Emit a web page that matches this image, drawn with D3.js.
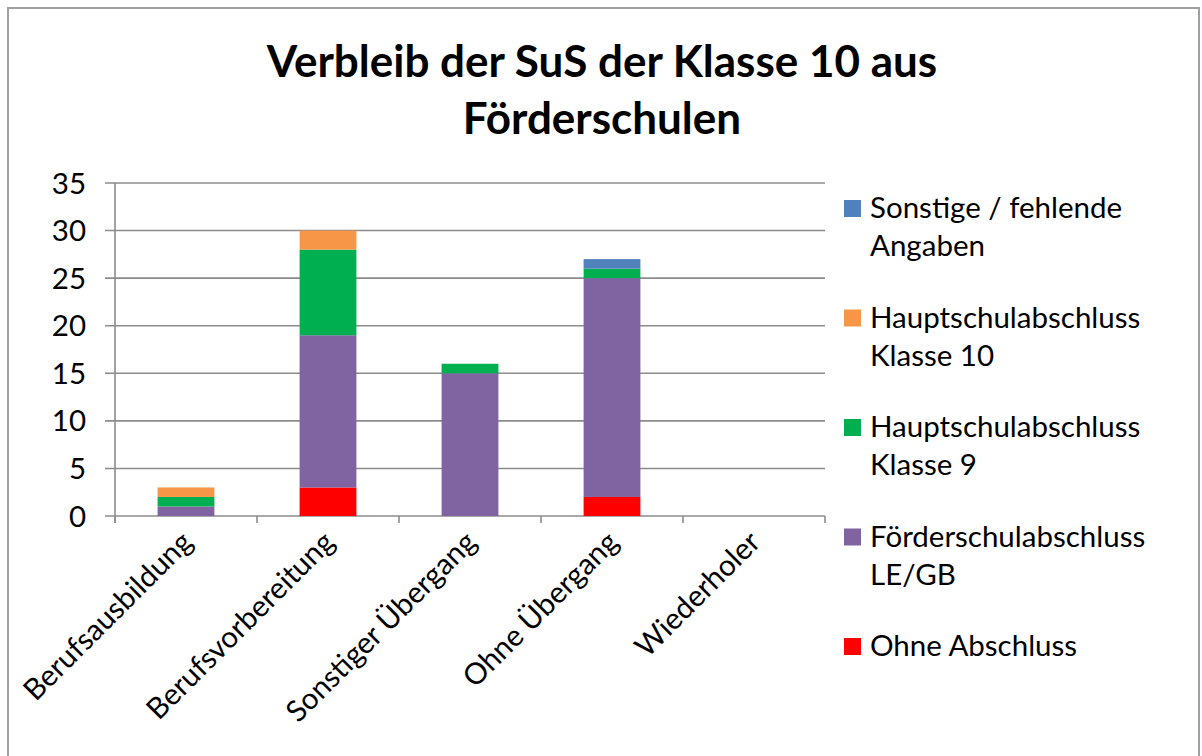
<!DOCTYPE html>
<html><head><meta charset="utf-8">
<script src="https://cdn.jsdelivr.net/npm/d3@7"></script>
<style>html,body{margin:0;padding:0;background:#fff;}svg{display:block;}</style>
</head><body>
<svg id="chart" width="1202" height="756"></svg>
<script>
const categories = ["Berufsausbildung","Berufsvorbereitung","Sonstiger Übergang","Ohne Übergang","Wiederholer"];
const seriesNames = ["Ohne Abschluss","Förderschulabschluss LE/GB","Hauptschulabschluss Klasse 9","Hauptschulabschluss Klasse 10","Sonstige / fehlende Angaben"];
const legendLines = [["Ohne Abschluss"],["Förderschulabschluss","LE/GB"],["Hauptschulabschluss","Klasse 9"],["Hauptschulabschluss","Klasse 10"],["Sonstige / fehlende","Angaben"]];
const ohneAbschluss   = [0, 3, 0, 2, 0];
const foerderschul    = [1, 16, 15, 23, 0];
const hauptschul9     = [1, 9, 1, 1, 0];
const hauptschul10    = [1, 2, 0, 0, 0];
const sonstige        = [0, 0, 0, 1, 0];
const colors = ["#FF0000","#8064A2","#00B050","#F79646","#4F81BD"];
const yTicks = [0,5,10,15,20,25,30,35];
const titleLines = ["Verbleib der SuS der Klasse 10 aus","Förderschulen"];

const seriesValues = [ohneAbschluss, foerderschul, hauptschul9, hauptschul10, sonstige];
const table = categories.map((c,i)=>{const o={cat:c}; seriesNames.forEach((s,j)=>o[s]=seriesValues[j][i]); return o;});
const stacked = d3.stack().keys(seriesNames)(table);

const svg = d3.select("#chart");
const font = "Lato, 'Open Sans', sans-serif";
const gridColor = "#8c8c8c";
const fs = 29.5;

// outer frame
svg.append("rect").attr("x",8).attr("y",8).attr("width",1191).attr("height",760)
  .attr("fill","none").attr("stroke","#a0a0a0").attr("stroke-width",2);

// title
svg.append("g").selectAll("text").data(titleLines).join("text")
  .attr("x",602).attr("y",(d,i)=>77+i*57)
  .attr("text-anchor","middle").attr("font-family",font).attr("font-weight","bold")
  .attr("font-size",44).attr("fill","#000").text(d=>d);

const x = d3.scaleBand().domain(categories).range([115,825]).paddingInner(0.6).paddingOuter(0.3);
const y = d3.scaleLinear().domain([0,35]).range([516,183]);

// gridlines
svg.append("g").selectAll("line").data(yTicks).join("line")
  .attr("x1",105).attr("x2",825).attr("y1",d=>y(d)).attr("y2",d=>y(d))
  .attr("stroke",gridColor).attr("stroke-width",1.6);
// y axis line
svg.append("line").attr("x1",115).attr("x2",115).attr("y1",y(35)).attr("y2",y(0)+7)
  .attr("stroke",gridColor).attr("stroke-width",1.6);
// x ticks at category boundaries
const step = x.step();
const bounds = d3.range(categories.length+1).map(i=>115+i*step);
svg.append("g").selectAll("line").data(bounds).join("line")
  .attr("x1",d=>d).attr("x2",d=>d).attr("y1",y(0)).attr("y2",y(0)+7)
  .attr("stroke",gridColor).attr("stroke-width",1.6);

// y tick labels
svg.append("g").selectAll("text").data(yTicks).join("text")
  .attr("x",86).attr("y",d=>y(d)).attr("dy","0.36em").attr("text-anchor","end")
  .attr("font-family",font).attr("font-size",fs).attr("fill","#000").text(d=>d);

// bars
svg.append("g").selectAll("g").data(stacked).join("g")
  .attr("fill",(d,i)=>colors[i])
  .selectAll("rect").data(d=>d).join("rect")
  .attr("x",d=>x(d.data.cat)).attr("width",x.bandwidth())
  .attr("y",d=>y(d[1])).attr("height",d=>y(d[0])-y(d[1]));

// x labels
svg.append("g").selectAll("text").data(categories).join("text")
  .attr("transform",d=>`translate(${x(d)+x.bandwidth()/2+8},${y(0)+28}) rotate(-45)`)
  .attr("text-anchor","end").attr("font-family",font).attr("font-size",fs).attr("fill","#000").text(d=>d);

// legend (reverse order)
const legendOrder = d3.range(seriesNames.length).reverse();
const lg = svg.append("g").selectAll("g").data(legendOrder).join("g")
  .attr("transform",(d,i)=>`translate(844,${200+i*109.5})`);
lg.append("rect").attr("width",17).attr("height",17).attr("fill",d=>colors[d]);
lg.append("text").attr("font-family",font).attr("font-size",fs).attr("fill","#000")
  .selectAll("tspan").data(d=>legendLines[d]).join("tspan")
  .attr("x",26).attr("y",(d,i)=>18+i*38).text(d=>d);
</script>
</body></html>
